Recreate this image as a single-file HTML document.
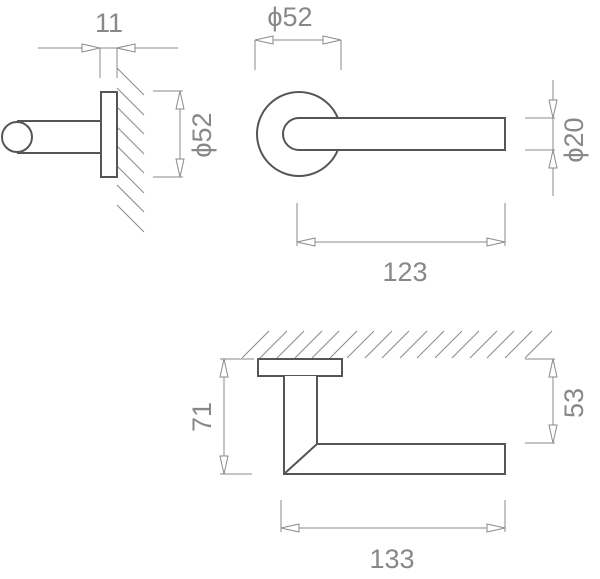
<!DOCTYPE html>
<html><head><style>html,body{margin:0;padding:0;background:#fff}svg{display:block}</style></head>
<body>
<svg width="600" height="579" viewBox="0 0 600 579" xmlns="http://www.w3.org/2000/svg">
<g fill="none" stroke="#8a8a8a" stroke-width="1">
<path d="M117,68L144,95M117,88L144,115M117,107L144,134M117,127L144,154M117,146L144,173M117,166L144,193M117,185L144,212M117,205L144,232"/>
<path d="M38,48H178M100,48V78M117,48V78"/>
<polygon points="100,48 82,44 82,52" fill="#fff"/>
<polygon points="117,48 135,44 135,52" fill="#fff"/>
<path d="M153,91H183M153,177H183M180,91V177"/>
<polygon points="180,91 176,109 184,109" fill="#fff"/>
<polygon points="180,177 176,159 184,159" fill="#fff"/>
<path d="M255,40H341M255,40V70M341,40V70"/>
<polygon points="255,40 273,36 273,44" fill="#fff"/>
<polygon points="341,40 323,36 323,44" fill="#fff"/>
<path d="M553,80V196M525,118H555M525,150H555"/>
<polygon points="553,118 549,100 557,100" fill="#fff"/>
<polygon points="553,150 549,168 557,168" fill="#fff"/>
<path d="M297,203V246M505,203V246M297,242H505"/>
<polygon points="297,242 315,238 315,246" fill="#fff"/>
<polygon points="505,242 487,238 487,246" fill="#fff"/>
<path d="M242,358L269,331M260,358L287,331M277,358L304,331M295,358L322,331M312,358L339,331M330,358L357,331M347,358L374,331M365,358L392,331M382,358L409,331M400,358L427,331M417,358L444,331M435,358L462,331M452,358L479,331M470,358L497,331M487,358L514,331M505,358L532,331M525,358L552,331"/>
<path d="M220,359H254M220,474H252M224,359V474"/>
<polygon points="224,359 220,377 228,377" fill="#fff"/>
<polygon points="224,474 220,456 228,456" fill="#fff"/>
<path d="M525,359H555M525,443H555M553,359V443"/>
<polygon points="553,359 549,377 557,377" fill="#fff"/>
<polygon points="553,443 549,425 557,425" fill="#fff"/>
<path d="M281,500V532M505,500V532M281,528H505"/>
<polygon points="281,528 299,524 299,532" fill="#fff"/>
<polygon points="505,528 487,524 487,532" fill="#fff"/>
</g>
<g fill="#fff" stroke="#555" stroke-width="2">
<path d="M17,121H100M17,153H100"/>
<circle cx="17" cy="137" r="15"/>
<rect x="101" y="92" width="16" height="85"/>
<circle cx="299" cy="134" r="42"/>
<path d="M505,118H299A16,16 0 0 0 299,150H505Z"/>
<rect x="258" y="359" width="84" height="17"/>
<path d="M284,376V474H505V444H317V376" />
<path d="M317,444L284,474" fill="none"/>
</g>
<g fill="#888" font-family="'Liberation Sans',sans-serif" font-size="27" text-anchor="middle">
<text x="109" y="32">11</text>
<text x="290" y="26">ϕ52</text>
<text x="405" y="281">123</text>
<text x="392" y="568">133</text>
<text transform="translate(211,135) rotate(-90)">ϕ52</text>
<text transform="translate(583,140) rotate(-90)">ϕ20</text>
<text transform="translate(211,417) rotate(-90)">71</text>
<text transform="translate(583,403) rotate(-90)">53</text>
</g>
</svg>
</body></html>
